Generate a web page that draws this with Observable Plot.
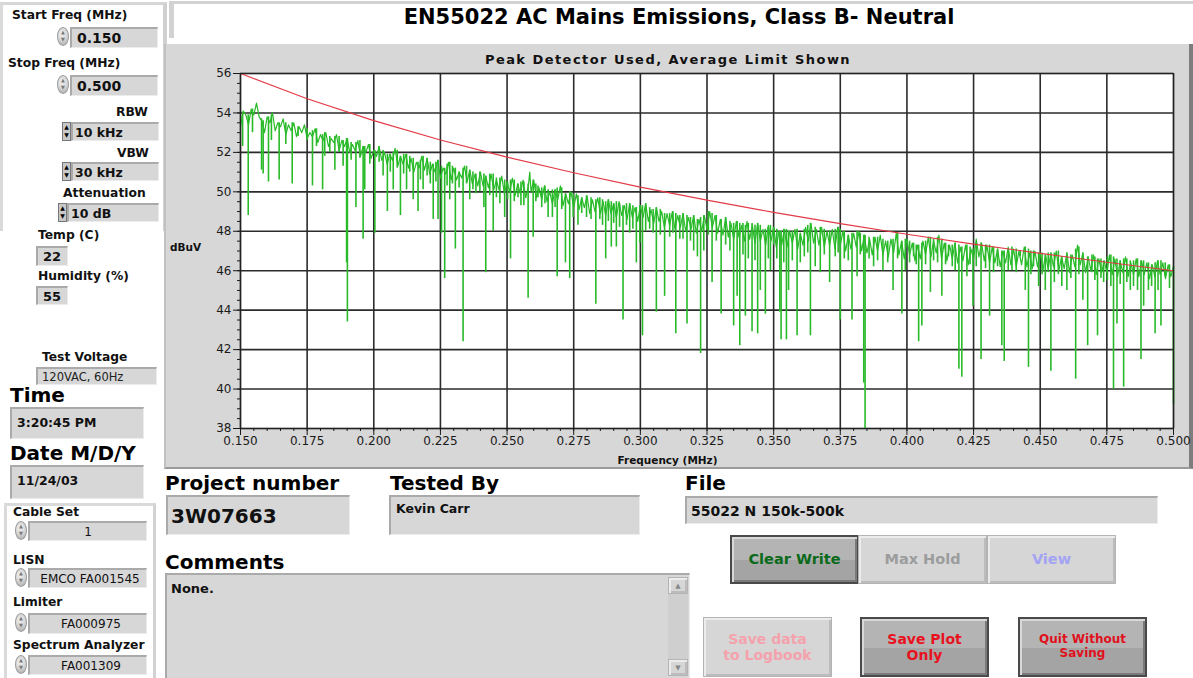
<!DOCTYPE html>
<html><head><meta charset="utf-8">
<script src="https://cdn.jsdelivr.net/npm/d3@7"></script>
<script src="https://cdn.jsdelivr.net/npm/@observablehq/plot@0.6"></script>
<style>
body{margin:0;background:#fff;}
#page{position:relative;width:1193px;height:678px;overflow:hidden;background:#fff;font-family:"DejaVu Sans",sans-serif;color:#111;}
.t{position:absolute;white-space:nowrap;line-height:1;}
.l{font-weight:bold;font-size:12.3px;}
.big{font-weight:bold;font-size:20px;color:#000;}
.box{position:absolute;box-sizing:border-box;background:#d7d7d7;border-top:2px solid #aaa;border-left:2px solid #aaa;border-right:1px solid #ececec;border-bottom:1px solid #ececec;display:flex;align-items:center;white-space:nowrap;padding-left:5px;}
.spin{position:absolute;width:12px;height:19px;border-radius:50%;background:radial-gradient(circle at 40% 35%,#f4f4f4,#aeaeae);border:1px solid #9a9a9a;box-sizing:border-box;font-size:5px;line-height:7px;text-align:center;color:#777;padding-top:1px;}
.arr{position:absolute;width:9px;box-sizing:border-box;background:#c8c8c8;border:1px solid #777;font-size:6px;line-height:8px;text-align:center;color:#000;}
.btn{position:absolute;box-sizing:border-box;display:flex;flex-direction:column;align-items:center;justify-content:center;font-weight:bold;text-align:center;line-height:1.15;}
.dark{background:linear-gradient(#b4b4b4 0 52%,#a4a4a4 52%);border:2px solid #4a4a4a;box-shadow:inset 2px 2px 0 #d8d8d8,inset -2px -2px 0 #7a7a7a;}
.light{background:#d6d6d6;border:1px solid #b4b4b4;box-shadow:inset 2px 2px 0 #ececec,inset -2px -2px 0 #bcbcbc;}
</style></head>
<body><div id="page">
<!-- left top frame -->
<div style="position:absolute;left:0;top:2px;width:160px;height:226px;border-top:3px solid #d6d6d6;border-right:4px solid #d0d0d0;border-left:3px solid #dadada;"></div>
<div class="t l" style="left:12px;top:9px;">Start Freq (MHz)</div>
<div class="spin" style="left:57px;top:27px;">▲<br>▼</div>
<div class="box" style="left:70px;top:27px;width:88px;height:21px;font-weight:bold;font-size:14px;">0.150</div>
<div class="t l" style="left:8px;top:57px;">Stop Freq (MHz)</div>
<div class="spin" style="left:57px;top:75px;">▲<br>▼</div>
<div class="box" style="left:70px;top:75px;width:88px;height:21px;font-weight:bold;font-size:14px;">0.500</div>
<div class="t l" style="left:116px;top:106px;">RBW</div>
<div class="arr" style="left:62px;top:122px;height:19px;">▲<br>▼</div>
<div class="box" style="left:71px;top:122px;width:88px;height:19px;font-weight:bold;font-size:12.5px;padding-left:2px;">10 kHz</div>
<div class="t l" style="left:117px;top:147px;">VBW</div>
<div class="arr" style="left:62px;top:162px;height:19px;">▲<br>▼</div>
<div class="box" style="left:71px;top:162px;width:88px;height:19px;font-weight:bold;font-size:12.5px;padding-left:2px;">30 kHz</div>
<div class="t l" style="left:63px;top:187px;">Attenuation</div>
<div class="arr" style="left:58px;top:203px;height:19px;">▲<br>▼</div>
<div class="box" style="left:67px;top:203px;width:92px;height:19px;font-weight:bold;font-size:12.5px;padding-left:2px;">10 dB</div>

<div class="t l" style="left:38px;top:229px;">Temp (C)</div>
<div class="box" style="left:36px;top:246px;width:32px;height:20px;font-weight:bold;font-size:13px;">22</div>
<div class="t l" style="left:38px;top:270px;">Humidity (%)</div>
<div class="box" style="left:36px;top:286px;width:32px;height:19px;font-weight:bold;font-size:13px;">55</div>
<div class="t l" style="left:42px;top:351px;">Test Voltage</div>
<div class="box" style="left:36px;top:367px;width:121px;height:18px;font-size:11.5px;padding-left:4px;color:#222;">120VAC, 60Hz</div>
<div class="t big" style="left:10px;top:385px;">Time</div>
<div class="box" style="left:10px;top:407px;width:134px;height:32px;font-weight:bold;font-size:12.5px;align-items:flex-start;padding-top:6px;">3:20:45 PM</div>
<div class="t big" style="left:10px;top:443px;">Date M/D/Y</div>
<div class="box" style="left:10px;top:465px;width:134px;height:34px;font-weight:bold;font-size:12.5px;align-items:flex-start;padding-top:6px;">11/24/03</div>

<!-- lower left frame -->
<div style="position:absolute;left:4px;top:503px;width:146px;height:180px;border-top:3px solid #dadada;border-left:3px solid #dadada;border-right:3px solid #d2d2d2;"></div>
<div class="t l" style="left:13px;top:506px;">Cable Set</div>
<div class="spin" style="left:15px;top:521px;">▲<br>▼</div>
<div class="box" style="left:28px;top:521px;width:119px;height:20px;font-size:12px;justify-content:center;padding-left:0;">1</div>
<div class="t l" style="left:13px;top:554px;">LISN</div>
<div class="spin" style="left:15px;top:568px;">▲<br>▼</div>
<div class="box" style="left:28px;top:568px;width:119px;height:20px;font-size:12px;justify-content:center;padding-left:4px;">EMCO FA001545</div>
<div class="t l" style="left:13px;top:596px;">Limiter</div>
<div class="spin" style="left:15px;top:613px;">▲<br>▼</div>
<div class="box" style="left:28px;top:613px;width:119px;height:21px;font-size:12px;justify-content:center;padding-left:6px;">FA000975</div>
<div class="t l" style="left:13px;top:639px;">Spectrum Analyzer</div>
<div class="spin" style="left:15px;top:655px;">▲<br>▼</div>
<div class="box" style="left:28px;top:655px;width:119px;height:20px;font-size:12px;justify-content:center;padding-left:6px;">FA001309</div>

<!-- title box -->
<div style="position:absolute;left:169px;top:1px;width:1030px;height:37px;background:#fff;border-top:3px solid #d2d2d2;border-left:5px solid #d2d2d2;box-sizing:border-box;"></div>
<div class="t" style="left:0;width:1358px;text-align:center;top:7px;font-weight:bold;font-size:21px;color:#000;">EN55022 AC Mains Emissions, Class B- Neutral</div>

<!-- chart panel -->
<div style="position:absolute;left:164px;top:44px;width:1029px;height:425px;background:#d7d7d7;border-left:2px solid #c2c2c2;border-right:4px solid #7d7d7d;border-bottom:2px solid #9a9a9a;box-sizing:border-box;"></div>
<div id="chart" style="position:absolute;left:165px;top:45px;"></div>
<div class="t" style="left:0;width:1336px;text-align:center;top:53px;font-weight:bold;font-size:13px;letter-spacing:1.45px;color:#111;">Peak Detector Used, Average Limit Shown</div>
<div class="t" style="left:170px;top:242px;font-weight:bold;font-size:10.5px;">dBuV</div>
<div class="t" style="left:0;width:1335px;text-align:center;top:455px;font-weight:bold;font-size:10.5px;">Frequency (MHz)</div>

<!-- bottom fields -->
<div class="t big" style="left:165px;top:473px;">Project number</div>
<div class="box" style="left:166px;top:495px;width:184px;height:40px;font-weight:bold;font-size:20px;padding-left:3px;">3W07663</div>
<div class="t big" style="left:390px;top:473px;">Tested By</div>
<div class="box" style="left:389px;top:495px;width:251px;height:40px;font-weight:bold;font-size:12.5px;align-items:flex-start;padding-top:4px;">Kevin Carr</div>
<div class="t big" style="left:685px;top:473px;">File</div>
<div class="box" style="left:685px;top:496px;width:473px;height:28px;font-weight:bold;font-size:14px;padding-left:4px;">55022 N 150k-500k</div>
<div class="t big" style="left:165px;top:552px;">Comments</div>
<div class="box" style="left:165px;top:573px;width:525px;height:108px;font-weight:bold;font-size:13px;align-items:flex-start;padding-top:6px;padding-left:4px;">None.</div>
<div style="position:absolute;left:668px;top:577px;width:20px;height:99px;background:#cfcfcf;"></div>
<div class="light" style="position:absolute;left:668px;top:577px;width:20px;height:17px;font-size:7px;color:#888;text-align:center;line-height:16px;box-sizing:border-box;">▲</div>
<div class="light" style="position:absolute;left:668px;top:659px;width:20px;height:17px;font-size:7px;color:#888;text-align:center;line-height:16px;box-sizing:border-box;">▼</div>

<!-- buttons -->
<div class="btn dark" style="left:730px;top:535px;width:129px;height:49px;color:#0a6a1a;font-size:14.5px;">Clear Write</div>
<div class="btn light" style="left:858px;top:535px;width:129px;height:49px;color:#9c9c9c;font-size:14.5px;">Max Hold</div>
<div class="btn light" style="left:987px;top:535px;width:129px;height:49px;color:#a3a3f5;font-size:14.5px;">View</div>
<div class="btn light" style="left:703px;top:617px;width:129px;height:60px;color:#f4a2ac;font-size:14px;">Save data<br>to Logbook</div>
<div class="btn dark" style="left:860px;top:617px;width:129px;height:60px;color:#e8121e;font-size:14px;">Save Plot<br>Only</div>
<div class="btn dark" style="left:1018px;top:617px;width:129px;height:60px;color:#e0101c;font-size:12px;">Quit Without<br>Saving</div>
</div>
<script>
// Axis ticks (MHz, dBuV)
const xTicks = [0.150,0.175,0.200,0.225,0.250,0.275,0.300,0.325,0.350,0.375,0.400,0.425,0.450,0.475,0.500];
const yTicks = [38,40,42,44,46,48,50,52,54,56];
// EN55022 Class B average limit read at each major x tick
const limitLevel = [56.00,54.72,53.61,52.63,51.76,50.97,50.24,49.58,48.96,48.39,47.85,47.35,46.88,46.43,46.00];
// Peak trace, upper envelope points [MHz, dBuV]
const envelopePeaks = [
[0.150,53.3],[0.151,54.1],[0.152,53.9],[0.154,54.2],[0.156,54.5],[0.157,53.8],[0.158,53.6],[0.160,53.8],[0.162,54.0],[0.164,53.5],
[0.166,53.7],[0.168,53.4],[0.170,53.5],[0.172,53.3],[0.174,53.4],[0.176,53.0],[0.178,53.2],[0.180,52.9],[0.182,53.0],[0.184,52.7],
[0.186,52.9],[0.188,52.6],[0.190,52.7],[0.192,52.4],[0.194,52.6],[0.196,52.3],[0.198,52.4],[0.200,52.1],[0.202,52.3],[0.204,52.0],
[0.206,51.9],[0.208,52.2],[0.210,51.8],[0.212,51.9],[0.214,51.7],[0.216,51.5],[0.218,51.8],[0.220,51.7],[0.222,51.4],[0.224,51.6],
[0.226,51.2],[0.228,51.5],[0.230,51.2],[0.232,51.0],[0.234,51.3],[0.236,51.1],[0.238,50.9],[0.240,51.0],[0.242,50.8],[0.244,50.9],
[0.246,50.6],[0.248,50.8],[0.250,50.5],[0.252,50.7],[0.254,50.4],[0.256,50.6],[0.258,50.3],[0.2585,51.0],[0.260,50.6],[0.262,50.2],[0.264,50.3],
[0.266,50.0],[0.268,50.1],[0.270,50.3],[0.272,49.9],[0.274,50.0],[0.276,49.9],[0.278,49.7],[0.280,49.8],[0.282,49.6],[0.284,49.7],
[0.286,49.5],[0.288,49.6],[0.290,49.4],[0.292,49.5],[0.294,49.3],[0.296,49.4],[0.298,49.2],[0.300,49.3],[0.302,49.4],[0.304,49.1],
[0.306,49.2],[0.308,49.0],[0.310,48.9],[0.312,49.0],[0.314,48.8],[0.316,48.9],[0.318,48.7],[0.320,48.8],[0.322,48.6],[0.324,48.8],
[0.326,49.0],[0.328,48.8],[0.330,48.6],[0.332,48.7],[0.334,48.4],[0.336,48.5],[0.338,48.3],[0.340,48.5],[0.342,48.3],[0.344,48.4],
[0.346,48.1],[0.348,48.3],[0.350,48.2],[0.352,48.0],[0.354,48.1],[0.356,48.0],[0.358,48.1],[0.360,47.9],[0.362,48.2],[0.364,48.4],
[0.366,48.1],[0.368,48.2],[0.370,48.0],[0.372,48.1],[0.374,48.2],[0.376,48.0],[0.378,47.8],[0.380,47.9],[0.382,48.0],[0.384,47.8],
[0.386,47.6],[0.388,47.7],[0.390,47.8],[0.392,47.5],[0.394,47.6],[0.396,47.9],[0.398,47.5],[0.400,47.6],[0.402,47.4],[0.404,47.3],
[0.406,47.5],[0.408,47.7],[0.410,47.5],[0.412,47.8],[0.414,47.4],[0.416,47.3],[0.418,47.4],[0.420,47.2],[0.422,47.3],[0.424,47.1],
[0.426,47.6],[0.428,47.4],[0.430,47.3],[0.432,47.2],[0.434,47.1],[0.436,47.0],[0.438,47.2],[0.440,47.1],[0.442,47.0],[0.444,47.2],
[0.446,46.9],[0.448,47.0],[0.450,46.9],[0.452,46.8],[0.454,46.9],[0.456,47.0],[0.458,46.7],[0.460,46.9],[0.462,46.8],[0.464,47.3],
[0.466,46.9],[0.468,46.7],[0.470,46.8],[0.472,46.6],[0.474,46.5],[0.476,46.8],[0.478,46.6],[0.480,46.5],[0.482,46.7],[0.484,46.4],
[0.486,46.6],[0.488,46.5],[0.490,46.4],[0.492,46.3],[0.494,46.5],[0.496,46.4],[0.498,46.3],[0.500,46.2]
];
// Peak trace, shallow notches between envelope points [MHz, dBuV]
const envelopeNotches = [
[0.153,53.4],[0.155,53.9],[0.159,53.0],[0.161,53.5],[0.163,53.1],[0.165,53.3],[0.167,52.9],[0.169,53.1],[0.171,52.8],[0.173,53.0],
[0.175,52.7],[0.177,52.8],[0.179,52.5],[0.181,52.6],[0.183,52.3],[0.185,52.5],[0.187,52.1],[0.189,52.3],[0.191,52.0],[0.193,52.1],
[0.195,51.8],[0.197,52.0],[0.199,51.7],[0.201,51.8],[0.203,51.6],[0.205,51.4],[0.207,51.6],[0.209,51.3],[0.211,51.4],[0.213,51.2],
[0.215,51.0],[0.217,51.2],[0.219,51.1],[0.221,50.9],[0.223,51.0],[0.225,50.7],[0.227,50.9],[0.229,50.6],[0.231,50.6],[0.233,50.7],
[0.235,50.5],[0.237,50.4],[0.239,50.3],[0.241,50.3],[0.243,50.2],[0.245,50.1],[0.247,50.1],[0.249,49.9],[0.251,50.0],[0.253,49.8],
[0.255,49.9],[0.257,49.7],[0.259,50.0],[0.261,49.7],[0.263,49.6],[0.265,49.5],[0.267,49.4],[0.269,49.6],[0.271,49.3],[0.273,49.4],
[0.275,49.2],[0.277,49.1],[0.279,49.2],[0.281,48.9],[0.283,49.0],[0.285,48.9],[0.287,48.8],[0.289,48.9],[0.291,48.7],[0.293,48.8],
[0.295,48.6],[0.297,48.7],[0.299,48.5],[0.301,48.7],[0.303,48.5],[0.305,48.4],[0.307,48.5],[0.309,48.2],[0.311,48.3],[0.313,48.1],
[0.315,48.2],[0.317,48.0],[0.319,48.1],[0.321,47.9],[0.323,48.0],[0.325,48.1],[0.327,48.2],[0.329,47.9],[0.331,47.8],[0.333,47.7],
[0.335,47.6],[0.337,47.7],[0.339,47.5],[0.341,47.6],[0.343,47.4],[0.345,47.5],[0.347,47.3],[0.349,47.5],[0.351,47.2],[0.353,47.3],
[0.355,47.2],[0.357,47.4],[0.359,47.1],[0.361,47.3],[0.363,47.5],[0.365,47.4],[0.367,47.3],[0.369,47.2],[0.371,47.3],[0.373,47.1],
[0.375,47.3],[0.377,47.0],[0.379,47.1],[0.381,47.2],[0.383,47.0],[0.385,46.9],[0.387,46.8],[0.389,47.0],[0.391,46.8],[0.393,46.7],
[0.395,46.9],[0.397,46.8],[0.399,46.6],[0.401,46.8],[0.403,46.5],[0.405,46.6],[0.407,46.8],[0.409,46.7],[0.411,46.9],[0.413,46.6],
[0.415,46.5],[0.417,46.6],[0.419,46.4],[0.421,46.5],[0.423,46.3],[0.425,46.6],[0.427,46.7],[0.429,46.5],[0.431,46.4],[0.433,46.4],
[0.435,46.2],[0.437,46.4],[0.439,46.3],[0.441,46.2],[0.443,46.3],[0.445,46.2],[0.447,46.1],[0.449,46.2],[0.451,46.0],[0.453,46.1],
[0.455,46.2],[0.457,46.0],[0.459,46.1],[0.461,45.9],[0.463,46.2],[0.465,46.3],[0.467,45.9],[0.469,46.0],[0.471,45.8],[0.473,45.9],
[0.475,45.9],[0.477,45.8],[0.479,45.7],[0.481,45.9],[0.483,45.7],[0.485,45.8],[0.487,45.7],[0.489,45.8],[0.491,45.6],[0.493,45.7],
[0.495,45.8],[0.497,45.6],[0.499,45.7]
];
// Deeper dips in the peak trace [MHz, top dBuV, bottom dBuV]
const dips = [
[0.1508,54.0,52.3],[0.1529,53.9,48.8],[0.1545,54.2,53.0],[0.1579,53.7,51.1],[0.1585,53.6,50.9],[0.1605,53.8,50.5],[0.1616,53.9,52.6],
[0.1645,53.5,50.6],[0.1670,53.5,52.4],[0.1694,53.5,50.4],[0.1716,53.3,52.8],[0.1750,53.2,52.6],[0.1770,53.1,50.3],[0.1785,53.2,52.3],
[0.1808,52.9,50.1],[0.1816,53.0,51.8],[0.1835,52.8,52.0],[0.1854,52.8,51.1],[0.1870,52.8,52.0],[0.1885,52.6,51.3],[0.1898,52.7,46.4],
[0.1901,52.7,43.4],[0.1915,52.5,51.6],[0.1933,52.5,49.2],[0.1948,52.6,51.7],[0.1960,52.3,47.6],[0.1966,52.3,50.1],[0.1985,52.4,51.4],
[0.2004,52.1,47.9],[0.2020,52.3,51.5],[0.2035,52.1,50.8],[0.2051,51.9,49.0],[0.2062,51.9,51.0],[0.2073,52.0,50.1],[0.2088,52.1,51.2],
[0.2100,51.8,48.8],[0.2112,51.9,50.9],[0.2123,51.9,50.1],[0.2135,51.8,51.0],[0.2148,51.7,49.6],[0.2166,51.5,49.0],[0.2175,51.6,50.6],
[0.2185,51.8,50.1],[0.2200,51.7,50.8],[0.2212,51.5,50.4],[0.2223,51.4,48.6],[0.2233,51.5,50.5],[0.2241,51.6,48.6],[0.2254,51.3,47.9],
[0.2266,51.2,45.6],[0.2275,51.4,50.3],[0.2285,51.5,49.6],[0.2295,51.3,50.4],[0.2306,51.2,47.1],[0.2320,51.0,50.2],[0.2335,51.2,42.4],
[0.2348,51.3,50.4],[0.2360,51.1,49.6],[0.2372,51.0,50.1],[0.2383,50.9,49.9],[0.2398,51.0,50.0],[0.2413,50.9,49.2],[0.2420,50.8,45.9],
[0.2435,50.9,49.8],[0.2448,50.9,48.0],[0.2460,50.7,49.7],[0.2473,50.7,49.4],[0.2491,50.6,48.7],[0.2502,50.5,49.6],[0.2513,50.6,46.6],
[0.2527,50.6,49.5],[0.2541,50.4,49.7],[0.2552,50.5,49.3],[0.2563,50.5,49.3],[0.2579,50.4,44.6],[0.2598,50.6,47.7],[0.2608,50.4,49.5],
[0.2616,50.3,49.7],[0.2630,50.2,49.2],[0.2642,50.3,49.4],[0.2654,50.1,48.7],[0.2670,50.1,48.7],[0.2680,50.1,49.2],[0.2688,50.2,45.7],
[0.2705,50.2,49.1],[0.2719,49.9,46.4],[0.2735,50.0,45.6],[0.2748,49.9,48.7],[0.2766,49.8,48.3],[0.2780,49.7,48.9],[0.2798,49.8,48.7],
[0.2815,49.7,48.6],[0.2833,49.6,44.3],[0.2848,49.7,48.6],[0.2858,49.6,48.3],[0.2870,49.5,46.6],[0.2880,49.6,48.5],[0.2891,49.5,47.2],
[0.2900,49.4,48.4],[0.2910,49.5,47.2],[0.2922,49.4,48.2],[0.2935,49.3,43.5],[0.2948,49.4,48.3],[0.2960,49.4,47.9],[0.2972,49.3,48.1],
[0.2985,49.2,46.4],[0.2998,49.3,47.4],[0.3008,49.3,42.7],[0.3020,49.4,48.0],[0.3035,49.2,48.1],[0.3048,49.1,47.9],[0.3060,49.2,43.9],
[0.3075,49.1,47.8],[0.3091,48.9,44.7],[0.3110,48.9,47.7],[0.3122,49.0,47.9],[0.3133,48.9,42.8],[0.3148,48.8,47.6],[0.3160,48.9,47.6],
[0.3175,48.8,43.3],[0.3188,48.7,47.5],[0.3200,48.8,47.0],[0.3214,48.6,46.7],[0.3226,48.7,41.8],[0.3238,48.8,47.0],[0.3255,49.0,47.8],
[0.3269,48.9,45.4],[0.3285,48.8,47.5],[0.3303,48.6,43.8],[0.3320,48.7,47.3],[0.3336,48.5,47.0],[0.3350,48.4,43.2],[0.3363,48.5,44.7],
[0.3373,48.4,42.2],[0.3385,48.4,46.8],[0.3394,48.3,43.7],[0.3405,48.4,46.6],[0.3419,48.4,42.9],[0.3430,48.3,46.5],[0.3440,48.4,42.8],
[0.3450,48.3,45.0],[0.3469,48.1,43.8],[0.3480,48.2,46.6],[0.3488,48.3,46.0],[0.3500,48.2,47.3],[0.3512,48.1,46.6],[0.3523,48.0,43.9],
[0.3528,48.0,42.5],[0.3538,48.1,46.4],[0.3548,48.1,42.5],[0.3556,48.0,45.0],[0.3570,48.0,46.5],[0.3588,48.1,42.7],[0.3600,47.9,46.4],
[0.3615,48.1,46.7],[0.3628,48.3,46.9],[0.3638,48.4,42.7],[0.3656,48.2,46.2],[0.3675,48.2,45.9],[0.3690,48.1,46.8],[0.3710,48.0,45.4],
[0.3731,48.1,46.7],[0.3742,48.2,46.9],[0.3750,48.1,43.5],[0.3765,48.0,46.6],[0.3780,47.8,46.5],[0.3794,47.9,43.5],[0.3813,48.0,45.7],
[0.3825,47.9,46.8],[0.3838,47.8,40.3],[0.3843,47.8,38.0],[0.3858,47.7,46.6],[0.3875,47.7,46.2],[0.3890,47.7,46.5],[0.3910,47.6,46.0],
[0.3928,47.5,46.4],[0.3948,47.6,45.0],[0.3965,47.9,46.6],[0.3981,47.5,43.8],[0.3994,47.6,46.0],[0.4010,47.5,46.4],[0.4025,47.4,46.7],
[0.4035,47.3,46.3],[0.4044,47.3,42.4],[0.4056,47.4,43.2],[0.4070,47.5,46.3],[0.4088,47.7,44.9],[0.4100,47.6,46.5],[0.4115,47.7,46.4],
[0.4131,47.6,44.7],[0.4145,47.4,46.3],[0.4156,47.3,46.7],[0.4170,47.3,46.2],[0.4181,47.4,46.0],[0.4195,47.3,41.0],[0.4206,47.2,40.6],
[0.4225,47.3,45.7],[0.4237,47.2,46.3],[0.4248,47.1,44.2],[0.4260,47.4,46.2],[0.4278,47.4,41.5],[0.4295,47.3,46.1],[0.4310,47.3,43.7],
[0.4325,47.2,45.9],[0.4340,47.1,46.2],[0.4356,47.0,42.2],[0.4365,47.0,41.4],[0.4380,47.1,46.0],[0.4394,47.2,46.0],[0.4410,47.1,45.9],
[0.4425,47.0,46.7],[0.4444,47.2,45.0],[0.4456,47.1,41.1],[0.4465,47.0,45.8],[0.4475,47.0,46.2],[0.4494,46.9,45.2],[0.4507,46.9,45.8],
[0.4519,46.8,45.0],[0.4530,46.9,45.9],[0.4540,46.9,40.9],[0.4553,46.9,45.4],[0.4568,47.0,45.8],[0.4581,46.7,45.2],[0.4600,46.9,45.0],
[0.4615,46.8,45.6],[0.4633,47.1,40.5],[0.4645,47.2,45.8],[0.4660,46.9,44.5],[0.4678,46.7,42.2],[0.4694,46.8,45.9],[0.4705,46.7,45.5],
[0.4715,46.6,42.7],[0.4728,46.6,45.6],[0.4738,46.5,45.4],[0.4752,46.7,45.5],[0.4765,46.8,45.2],[0.4775,46.7,40.0],[0.4788,46.6,43.3],
[0.4800,46.5,45.3],[0.4813,46.6,40.1],[0.4825,46.6,45.4],[0.4838,46.5,45.0],[0.4850,46.5,45.2],[0.4865,46.6,45.0],[0.4878,46.5,41.5],
[0.4888,46.5,44.2],[0.4906,46.4,45.0],[0.4918,46.3,45.2],[0.4931,46.4,42.8],[0.4942,46.5,45.0],[0.4953,46.5,43.2],[0.4969,46.4,45.7],
[0.4985,46.3,45.1],[0.5000,46.2,39.2]
];

const green = "#29ba29";
const envRows = [...envelopePeaks, ...envelopeNotches].sort((a, b) => a[0] - b[0]).map(([f, v]) => ({f, v}));
const dipRows = dips.map(([f, t, b]) => ({f, t, b}));
const limitRows = xTicks.map((f, i) => ({f, v: limitLevel[i]}));
const minorY = d3.range(0, 37).map(i => 38 + i * 0.5);
const minorX = d3.range(0, 71).map(i => 0.15 + i * 0.005);

const chart = Plot.plot({
  width: 1025, height: 422,
  marginLeft: 75, marginRight: 17, marginTop: 28, marginBottom: 39,
  x: {domain: [0.15, 0.5]},
  y: {domain: [38, 56]},
  style: {background: "transparent", fontFamily: "'DejaVu Sans', sans-serif", fontSize: "12px", color: "#1a1a1a", overflow: "visible"},
  marks: [
    Plot.frame({fill: "#fff"}),
    Plot.ruleX(xTicks, {stroke: "#2b2b2b", strokeWidth: 1.6}),
    Plot.ruleY(yTicks, {stroke: "#2b2b2b", strokeWidth: 1.6}),
    Plot.ruleX(dipRows, {x: "f", y1: "t", y2: "b", stroke: green, strokeWidth: 1.6}),
    Plot.line(envRows, {x: "f", y: "v", stroke: green, strokeWidth: 1.2}),
    Plot.line(limitRows, {x: "f", y: "v", stroke: "#e23a46", strokeWidth: 1.1}),
    Plot.frame({stroke: "#222", strokeWidth: 1.2}),
    Plot.axisY(yTicks, {tickSize: 7, tickPadding: 2, label: null, tickFormat: d => String(d)}),
    Plot.axisY(minorY, {tickSize: 3, label: null, tickFormat: () => ""}),
    Plot.axisX(xTicks, {tickSize: 7, tickPadding: 1, label: null, tickFormat: d3.format(".3f")}),
    Plot.axisX(minorX, {tickSize: 3, label: null, tickFormat: () => ""})
  ]
});
document.getElementById("chart").appendChild(chart);
</script>
</body></html>
